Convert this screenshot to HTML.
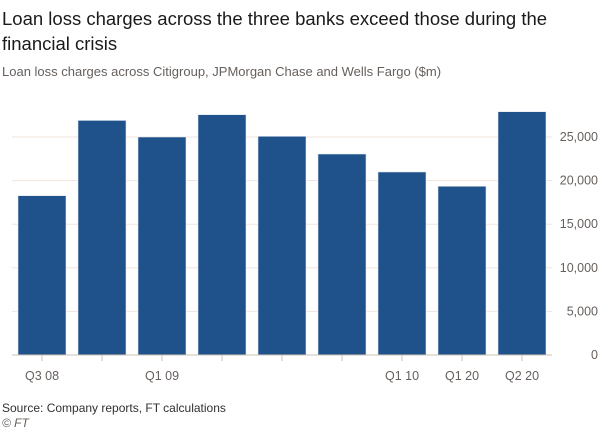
<!DOCTYPE html>
<html><head><meta charset="utf-8"><style>
body{margin:0;background:#fff;font-family:"Liberation Sans",sans-serif;}
#wrap{position:relative;width:602px;height:430px;overflow:hidden;}
.t{position:absolute;left:2px;margin:0;}
</style></head><body>
<div id="wrap">
<div class="t" style="top:6px;font-size:18.5px;line-height:25px;color:#1a1a1a;width:590px;">Loan loss charges across the three banks exceed those during the financial crisis</div>
<div class="t" style="top:64px;font-size:13px;color:#66605c;">Loan loss charges across Citigroup, JPMorgan Chase and Wells Fargo ($m)</div>
<svg id="chart" width="602" height="430" style="position:absolute;left:0;top:0"></svg>
<div class="t" style="top:401px;font-size:12px;color:#33302e;">Source: Company reports, FT calculations</div>
<div class="t" style="top:416px;font-size:12px;color:#66605c;font-style:italic;">© FT</div>
</div>
<script>
const categories=["Q3 08","Q4 08","Q1 09","Q2 09","Q3 09","Q4 09","Q1 10","Q1 20","Q2 20"];
const values=[18270,26900,25000,27560,25080,23050,20990,19350,27900];
const shownLabels=["Q3 08","","Q1 09","","","","Q1 10","Q1 20","Q2 20"];
const yTicks=[0,5000,10000,15000,20000,25000];
const yTickLabels=["0","5,000","10,000","15,000","20,000","25,000"];
const NS="http://www.w3.org/2000/svg";
const svg=document.getElementById('chart');
const x0=12,x1=552,yBase=355,yTop=137;
const band=(x1-x0)/categories.length;
const y=v=>yBase-(v/25000)*(yBase-yTop);
function mk(t,a){const e=document.createElementNS(NS,t);for(const k in a)e.setAttribute(k,a[k]);svg.appendChild(e);return e;}
yTicks.forEach((v,i)=>{
 if(v>0){const g=mk('line',{x1:x0,x2:x1,y1:y(v),y2:y(v),stroke:'#f2e6de','stroke-width':1});
 
 }
 const t=mk('text',{x:598,y:y(v)+4,'text-anchor':'end','font-size':12.5,fill:'#66605c','font-family':'Liberation Sans, sans-serif'});
 t.textContent=yTickLabels[i];
 
 
});
categories.forEach((c,i)=>{
 const cx=x0+band*(i+0.5);
 const r=mk('rect',{x:cx-24,y:y(values[i]),width:48,height:yBase-y(values[i]),fill:'#1f528a',stroke:'#dfe6ee','stroke-width':0.6});
 
 
 const tk=mk('line',{x1:cx,x2:cx,y1:yBase,y2:yBase+6,stroke:'#ccc1b7','stroke-width':1});
 
 
 if(shownLabels[i]){const t=mk('text',{x:cx,y:yBase+25,'text-anchor':'middle','font-size':12.5,fill:'#66605c','font-family':'Liberation Sans, sans-serif'});
 t.textContent=shownLabels[i];
 
 }
});
const ax=mk('line',{x1:x0,x2:x1,y1:yBase,y2:yBase,stroke:'#ccc1b7','stroke-width':1});


</script>
</body></html>
